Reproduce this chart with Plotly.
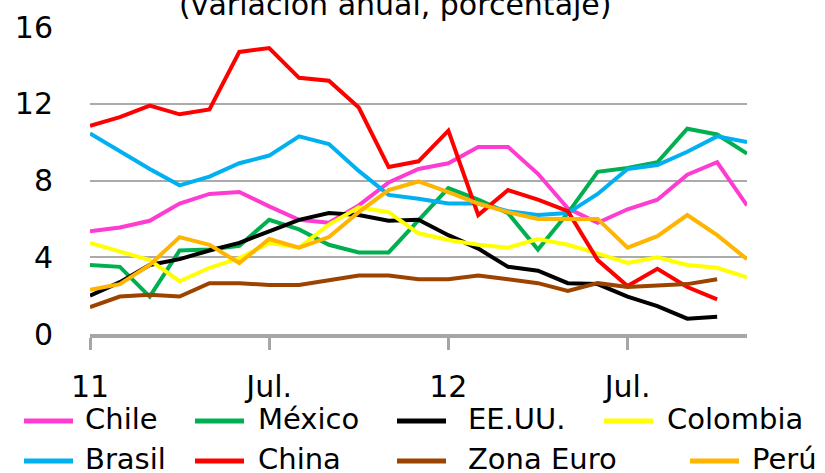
import plotly.graph_objects as go

# monthly inflation, Jan 2011 - Nov 2012 (variación anual, %)
months = ["Ene-11", "Feb-11", "Mar-11", "Abr-11", "May-11", "Jun-11", "Jul-11",
          "Ago-11", "Sep-11", "Oct-11", "Nov-11", "Dic-11", "Ene-12", "Feb-12",
          "Mar-12", "Abr-12", "May-12", "Jun-12", "Jul-12", "Ago-12", "Sep-12",
          "Oct-12", "Nov-12"]
tick_vals = ["Ene-11", "Jul-11", "Ene-12", "Jul-12"]
tick_text = ["11", "Jul.", "12", "Jul."]

chile = [5.35, 5.55, 5.9, 6.8, 7.3, 7.4, 6.65, 5.95, 5.8, 6.7, 7.9, 8.6,
         8.9, 9.75, 9.75, 8.35, 6.55, 5.8, 6.5, 7.0, 8.3, 8.95, 6.7]
mexico = [3.6, 3.5, 1.95, 4.35, 4.4, 4.6, 5.95, 5.45, 4.65, 4.25, 4.25, 5.95,
          7.6, 7.0, 6.3, 4.4, 6.3, 8.45, 8.65, 8.95, 10.7, 10.4, 9.4]
eeuu = [2.0, 2.7, 3.6, 3.9, 4.35, 4.75, 5.35, 5.95, 6.3, 6.2, 5.9, 5.95,
        5.15, 4.45, 3.5, 3.3, 2.65, 2.6, 1.95, 1.45, 0.8, 0.9]
colombia = [4.75, 4.3, 3.85, 2.75, 3.45, 3.95, 4.75, 4.5, 5.7, 6.6, 6.35, 5.25,
            4.9, 4.65, 4.5, 4.95, 4.65, 4.2, 3.7, 4.0, 3.6, 3.45, 2.95]
brasil = [10.45, 9.5, 8.6, 7.75, 8.2, 8.9, 9.3, 10.3, 9.9, 8.5, 7.25, 7.05,
          6.8, 6.8, 6.4, 6.2, 6.3, 7.3, 8.6, 8.8, 9.5, 10.3, 10.0]
china = [10.85, 11.3, 11.9, 11.45, 11.7, 14.7, 14.9, 13.35, 13.2, 11.8, 8.7, 9.0,
         10.6, 6.2, 7.5, 7.0, 6.4, 3.85, 2.5, 3.4, 2.45, 1.8]
zona_euro = [1.4, 1.95, 2.05, 1.95, 2.65, 2.65, 2.55, 2.55, 2.8, 3.05, 3.05, 2.85,
             2.85, 3.05, 2.85, 2.65, 2.25, 2.65, 2.45, 2.5, 2.6, 2.85]
peru = [2.3, 2.6, 3.6, 5.05, 4.65, 3.7, 4.95, 4.5, 5.05, 6.35, 7.5, 7.95,
        7.4, 6.8, 6.35, 6.0, 6.0, 6.0, 4.5, 5.1, 6.2, 5.15, 3.9]

series = [
    ("Chile", chile, "#FF3CD2"),
    ("México", mexico, "#00B050"),
    ("EE.UU.", eeuu, "#000000"),
    ("Colombia", colombia, "#FFFF00"),
    ("Brasil", brasil, "#00B0F0"),
    ("China", china, "#FF0000"),
    ("Zona Euro", zona_euro, "#9C4300"),
    ("Perú", peru, "#FFB400"),
]

FONT = "DejaVu Sans"

# plot area in pixels (825x473 page)
L, R, T, B = 90, 747, 27, 334


def px(x):
    return (x - L) / (R - L)


def py(y):
    return (B - y) / (B - T)


fig = go.Figure()

for name, vals, color in series:
    fig.add_trace(go.Scatter(
        x=months[:len(vals)],
        y=vals,
        mode="lines",
        name=name,
        line=dict(color=color, width=4),
        showlegend=False,
    ))

# legend drawn by hand (2 rows x 4 columns, like the Excel original)
legend_cols = [(24, 85), (195, 258), (397, 468), (604, 667)]
legend_rows = [421, 461]
shapes = []
annotations = []
for k, (name, vals, color) in enumerate(series):
    row, col = divmod(k, 4)
    x0, xt = legend_cols[col]
    if name == "Perú":
        x0, xt = 690, 752
    y = legend_rows[row]
    shapes.append(dict(type="line", xref="paper", yref="paper",
                       x0=px(x0), x1=px(x0 + 49), y0=py(y), y1=py(y),
                       line=dict(color=color, width=5)))
    annotations.append(dict(text=name, xref="paper", yref="paper",
                            x=px(xt - 2), y=py(y - 2), xanchor="left", yanchor="middle",
                            showarrow=False, font=dict(family=FONT, size=29, color="black")))

annotations.append(dict(text="(variación anual, porcentaje)", xref="paper", yref="paper",
                        x=px(395), y=py(5), xanchor="center", yanchor="middle",
                        showarrow=False, font=dict(family=FONT, size=30, color="black")))

fig.update_layout(
    width=825,
    height=473,
    margin=dict(l=L, r=825 - R, t=T, b=473 - B),
    plot_bgcolor="white",
    paper_bgcolor="white",
    shapes=shapes,
    annotations=annotations,
    showlegend=False,
)

fig.update_xaxes(
    type="category",
    categoryorder="array",
    categoryarray=months,
    range=[0, len(months) - 1],
    tickvals=tick_vals,
    ticktext=tick_text,
    ticks="outside",
    ticklen=12,
    tickwidth=3,
    tickcolor="#A6A6A6",
    showline=True,
    linecolor="#A6A6A6",
    linewidth=4,
    showgrid=False,
    zeroline=False,
    automargin=False,
    ticklabelstandoff=11,
    tickfont=dict(family=FONT, size=30, color="black"),
)
fig.update_yaxes(
    range=[0, 16],
    dtick=4,
    showgrid=True,
    gridcolor="#ABABAB",
    gridwidth=2,
    zeroline=False,
    showline=False,
    ticks="",
    automargin=False,
    ticklabelstandoff=36,
    tickfont=dict(family=FONT, size=30, color="black"),
)

# drop the browser's default 8px body margin so the figure fills the window
fig.write_html("out.html", config={"displayModeBar": False},
               post_script="document.body.style.margin='0';")
